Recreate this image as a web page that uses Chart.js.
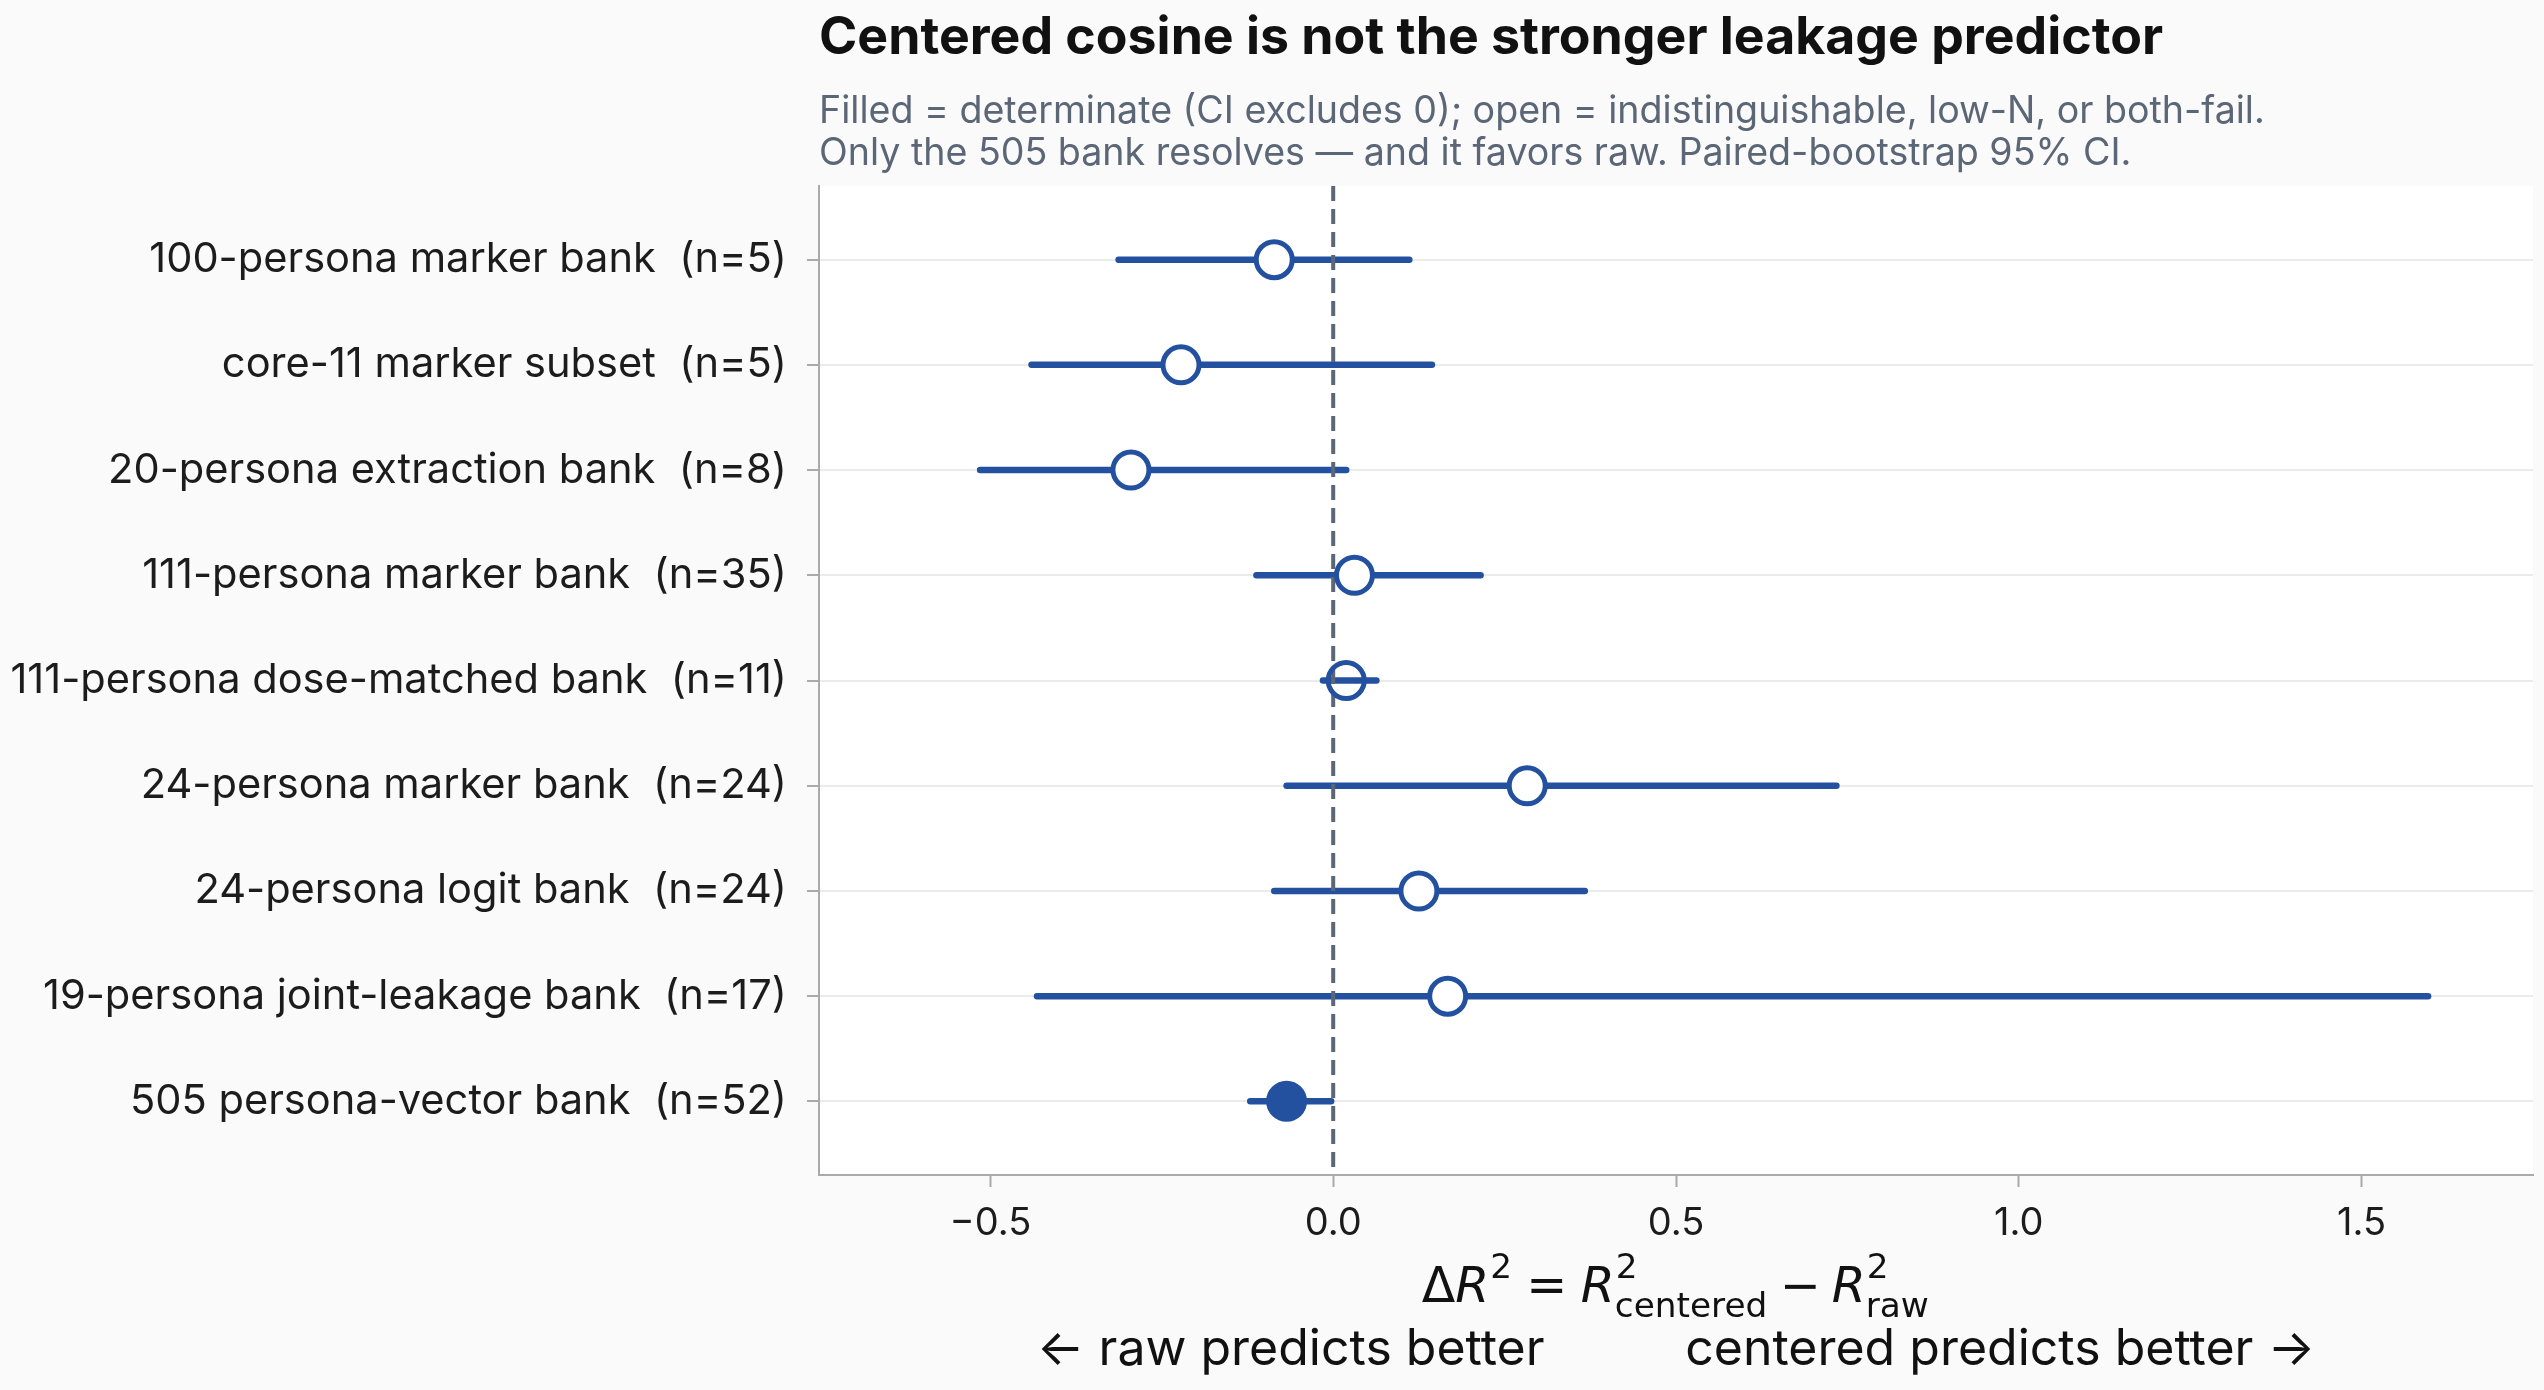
<!DOCTYPE html>
<html>
<head>
<meta charset="utf-8">
<script src="https://cdn.jsdelivr.net/npm/chart.js@4.4.1/dist/chart.umd.min.js"></script>
<style>
  html, body { margin: 0; padding: 0; background: #fafafa; }
  canvas { display: block; }
</style>
</head>
<body>
<canvas id="c" width="2544" height="1390"></canvas>
<script>
// ---------------- data ----------------
const categories = [
  '100-persona marker bank  (n=5)',
  'core-11 marker subset  (n=5)',
  '20-persona extraction bank  (n=8)',
  '111-persona marker bank  (n=35)',
  '111-persona dose-matched bank  (n=11)',
  '24-persona marker bank  (n=24)',
  '24-persona logit bank  (n=24)',
  '19-persona joint-leakage bank  (n=17)',
  '505 persona-vector bank  (n=52)'
];
const estimates = [-0.086, -0.222, -0.295, 0.031, 0.019, 0.283, 0.125, 0.167, -0.068];
const ciLow     = [-0.313, -0.440, -0.515, -0.112, -0.015, -0.068, -0.086, -0.432, -0.121];
const ciHigh    = [ 0.111,  0.144,  0.019,  0.215,  0.063,  0.734,  0.367,  1.597, -0.003];
const markerKind = ['open', 'open', 'open', 'open', 'hollow', 'open', 'open', 'open', 'filled'];
const xTickValues = [-0.5, 0.0, 0.5, 1.0, 1.5];
const xRange = [-0.75, 1.75];
const yRange = [-0.7, 8.7];

const titleText = 'Centered cosine is not the stronger leakage predictor';
const subtitleLines = [
  'Filled = determinate (CI excludes 0); open = indistinguishable, low-N, or both-fail.',
  'Only the 505 bank resolves \u2014 and it favors raw. Paired-bootstrap 95% CI.'
];
const directionText = '\u2190 raw predicts better          centered predicts better \u2192';

// ---------------- style ----------------
const BLUE = '#23519f';
const SLATE = '#5b6677';
const SPINE = '#aaaaaa';

const ciDatasets = categories.map((c, i) => ({
  type: 'line',
  label: 'CI ' + c,
  data: [{ x: ciLow[i], y: i }, { x: ciHigh[i], y: i }],
  borderColor: BLUE,
  borderWidth: 6.5,
  borderCapStyle: 'round',
  pointRadius: 0,
  fill: false,
  tension: 0,
  order: 3
}));

const zeroLine = {
  type: 'line',
  label: 'zero',
  data: [{ x: 0, y: yRange[0] }, { x: 0, y: yRange[1] }],
  borderColor: SLATE,
  borderWidth: 4,
  borderDash: [15, 8],
  pointRadius: 0,
  fill: false,
  order: 2
};

const pointDataset = {
  type: 'scatter',
  label: 'estimate',
  data: estimates.map((v, i) => ({ x: v, y: i })),
  pointRadius: 18,
  pointBorderWidth: 5,
  pointBorderColor: BLUE,
  pointBackgroundColor: markerKind.map(k => k === 'filled' ? BLUE : (k === 'hollow' ? 'rgba(0,0,0,0)' : '#ffffff')),
  order: 0
};

const bgPlugin = {
  id: 'bg',
  beforeDraw(chart) {
    const { ctx, chartArea: a } = chart;
    ctx.save();
    ctx.fillStyle = '#fafafa';
    ctx.fillRect(0, 0, chart.width, chart.height);
    ctx.fillStyle = '#ffffff';
    ctx.fillRect(a.left, a.top, a.right - a.left, a.bottom - a.top);
    ctx.restore();
  }
};

function drawMath(ctx, cx, baseline, size) {
  const fam = '"DejaVu Sans"';
  const up = s => `${s}px ${fam}`;
  const it = s => `italic ${s}px ${fam}`;
  const small = size * 0.7;
  const supDy = -size * 0.5;
  const subDy = size * 0.3;
  const thick = size * 0.2777;
  const med = size * 0.2222;
  const items = [
    { t: '\u0394', f: up(size) },
    { t: 'R', f: it(size) },
    { sup: '2' },
    { space: thick },
    { t: '=', f: up(size) },
    { space: thick },
    { t: 'R', f: it(size) },
    { sup: '2', sub: 'centered' },
    { space: med },
    { t: '\u2212', f: up(size) },
    { space: med },
    { t: 'R', f: it(size) },
    { sup: '2', sub: 'raw' }
  ];
  const widths = items.map(o => {
    if (o.space) return o.space;
    if (o.t) { ctx.font = o.f; return ctx.measureText(o.t).width; }
    ctx.font = up(small);
    const a = o.sup ? ctx.measureText(o.sup).width : 0;
    const b = o.sub ? ctx.measureText(o.sub).width : 0;
    return Math.max(a, b) + size * 0.03;
  });
  const total = widths.reduce((s, w) => s + w, 0);
  let x = cx - total / 2;
  ctx.textAlign = 'left';
  ctx.textBaseline = 'alphabetic';
  items.forEach((o, i) => {
    if (o.t) { ctx.font = o.f; ctx.fillText(o.t, x, baseline); }
    else if (!o.space) {
      ctx.font = up(small);
      if (o.sup) ctx.fillText(o.sup, x + size * 0.02, baseline + supDy);
      if (o.sub) ctx.fillText(o.sub, x, baseline + subDy);
    }
    x += widths[i];
  });
}

const textPlugin = {
  id: 'texts',
  afterDraw(chart) {
    const { ctx, chartArea: a } = chart;
    ctx.save();
    ctx.textAlign = 'left';
    ctx.textBaseline = 'alphabetic';
    ctx.fillStyle = '#111111';
    ctx.font = 'bold 51.8px Inter';
    ctx.fillText(titleText, a.left, 54);
    ctx.fillStyle = SLATE;
    ctx.font = '37.6px Inter';
    ctx.fillText(subtitleLines[0], a.left, 122.5);
    ctx.fillText(subtitleLines[1], a.left, 164.5);
    const cx = (a.left + a.right) / 2;
    ctx.fillStyle = '#111111';
    drawMath(ctx, cx, a.bottom + 127, 49);
    ctx.font = '50px Inter';
    ctx.textAlign = 'center';
    ctx.fillText(directionText, cx, a.bottom + 190);
    ctx.restore();
  }
};

new Chart(document.getElementById('c'), {
  data: { datasets: [pointDataset, zeroLine, ...ciDatasets] },
  options: {
    responsive: false,
    devicePixelRatio: 1,
    animation: false,
    events: [],
    layout: { autoPadding: false, padding: { top: 186, left: 0, right: 11, bottom: 0 } },
    plugins: { legend: { display: false }, tooltip: { enabled: false }, title: { display: false } },
    scales: {
      x: {
        type: 'linear',
        min: xRange[0],
        max: xRange[1],
        afterBuildTicks: s => { s.ticks = xTickValues.map(v => ({ value: v })); },
        afterFit: s => { s.height = 215; s.paddingLeft = 0; s.paddingRight = 0; },
        ticks: {
          callback: v => (v < 0 ? '\u2212' : '') + Math.abs(v).toFixed(1),
          font: { family: 'Inter', size: 38 },
          color: '#1c1c1c',
          padding: 14,
          maxRotation: 0,
          autoSkip: false
        },
        grid: { drawOnChartArea: false, drawTicks: true, tickLength: 12, tickColor: SPINE, tickWidth: 2 },
        border: { color: SPINE, width: 2 }
      },
      y: {
        type: 'linear',
        min: yRange[0],
        max: yRange[1],
        reverse: true,
        afterBuildTicks: s => { s.ticks = categories.map((_, i) => ({ value: i })); },
        afterFit: s => { s.width = 819; s.paddingTop = 0; s.paddingBottom = 0; },
        ticks: {
          callback: v => categories[v],
          font: { family: 'Inter', size: 41.6 },
          color: '#1c1c1c',
          padding: 20,
          autoSkip: false
        },
        grid: { color: '#ebebeb', lineWidth: 2, tickLength: 12, tickColor: SPINE, tickWidth: 2 },
        border: { color: SPINE, width: 2 }
      }
    }
  },
  plugins: [bgPlugin, textPlugin]
});
</script>
</body>
</html>
